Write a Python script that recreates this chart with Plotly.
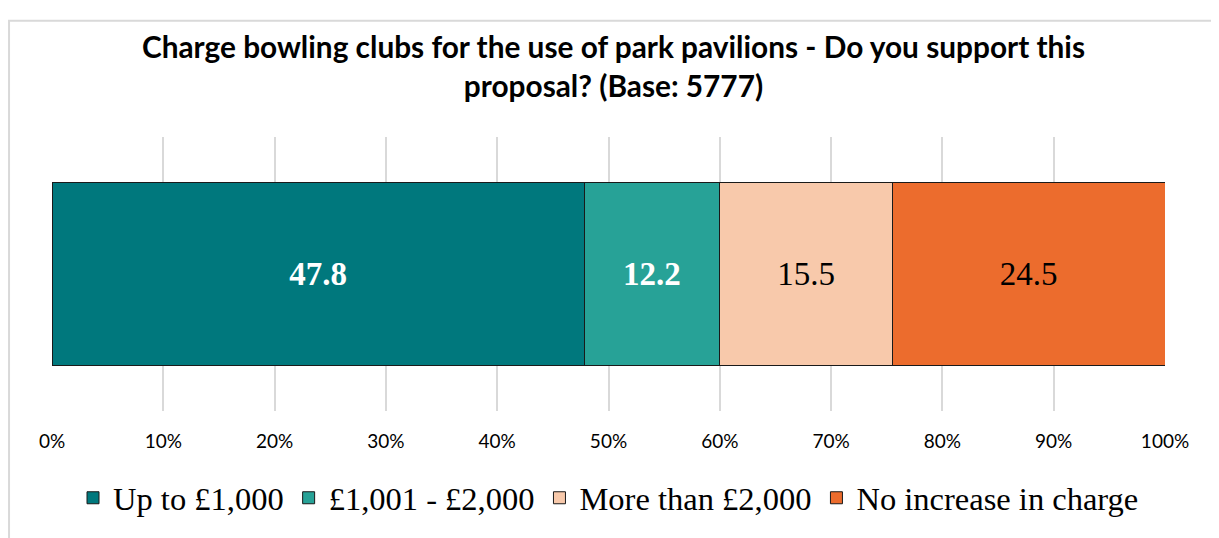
import plotly.graph_objects as go

# данные
categories = ["Charge bowling clubs"]
series_names = ["Up to £1,000", "£1,001 - £2,000", "More than £2,000", "No increase in charge"]
series_values = [47.8, 12.2, 15.5, 24.5]
colors = ["#00787D", "#27A297", "#F8C9AB", "#EC6C2D"]
label_colors = ["white", "white", "black", "black"]
label_bold = [True, True, False, False]
tick_vals = [0, 10, 20, 30, 40, 50, 60, 70, 80, 90, 100]
tick_text = [f"{v}%" for v in tick_vals]

fig = go.Figure()
for name, val, col, lc, bold in zip(series_names, series_values, colors, label_colors, label_bold):
    fig.add_trace(go.Bar(
        y=categories,
        x=[val],
        name=name,
        orientation="h",
        marker=dict(color=col, line=dict(color="#1a1a1a", width=1)),
        text=[f"<b>{val}</b>" if bold else f"{val}"],
        textposition="inside",
        insidetextanchor="middle",
        textangle=0,
        textfont=dict(family="Liberation Serif", size=33, color=lc),
        width=0.67,
    ))

# страница добавляет отступ 8px, поэтому фигура чуть меньше окна
fig.update_layout(
    barmode="stack",
    width=1211,
    height=530,
    paper_bgcolor="white",
    plot_bgcolor="white",
    margin=dict(l=44, r=54, t=129, b=118),
    title=dict(
        text="<b>Charge bowling clubs for the use of park pavilions - Do you support this<br>proposal? (Base: 5777)</b>",
        x=0.5, xanchor="center",
        y=0.906, yanchor="middle",
        font=dict(family="Lato", size=29.8, color="black"),
    ),
    xaxis=dict(
        range=[0, 100],
        tickvals=tick_vals,
        ticktext=tick_text,
        showgrid=True,
        gridcolor="#d9d9d9",
        gridwidth=2,
        zeroline=False,
        showline=False,
        ticklabelstandoff=17,
        tickfont=dict(family="Lato", size=19, color="black"),
        fixedrange=True,
    ),
    yaxis=dict(
        showticklabels=False,
        showgrid=False,
        range=[-0.5, 0.5],
    ),
    showlegend=True,
    legend=dict(
        orientation="h",
        x=0.5, xanchor="center",
        y=-0.318, yanchor="middle",
        font=dict(family="Liberation Serif", size=32.5, color="black"),
        traceorder="normal",
        itemwidth=30,
    ),
    shapes=[dict(
        type="rect", xref="paper", yref="paper",
        x0=-0.0386, x1=1.2, y0=-0.8, y1=1.4242,
        line=dict(color="#d9d9d9", width=2),
        fillcolor="rgba(0,0,0,0)",
        layer="below",
    )],
)

fig.write_html("out.html")
